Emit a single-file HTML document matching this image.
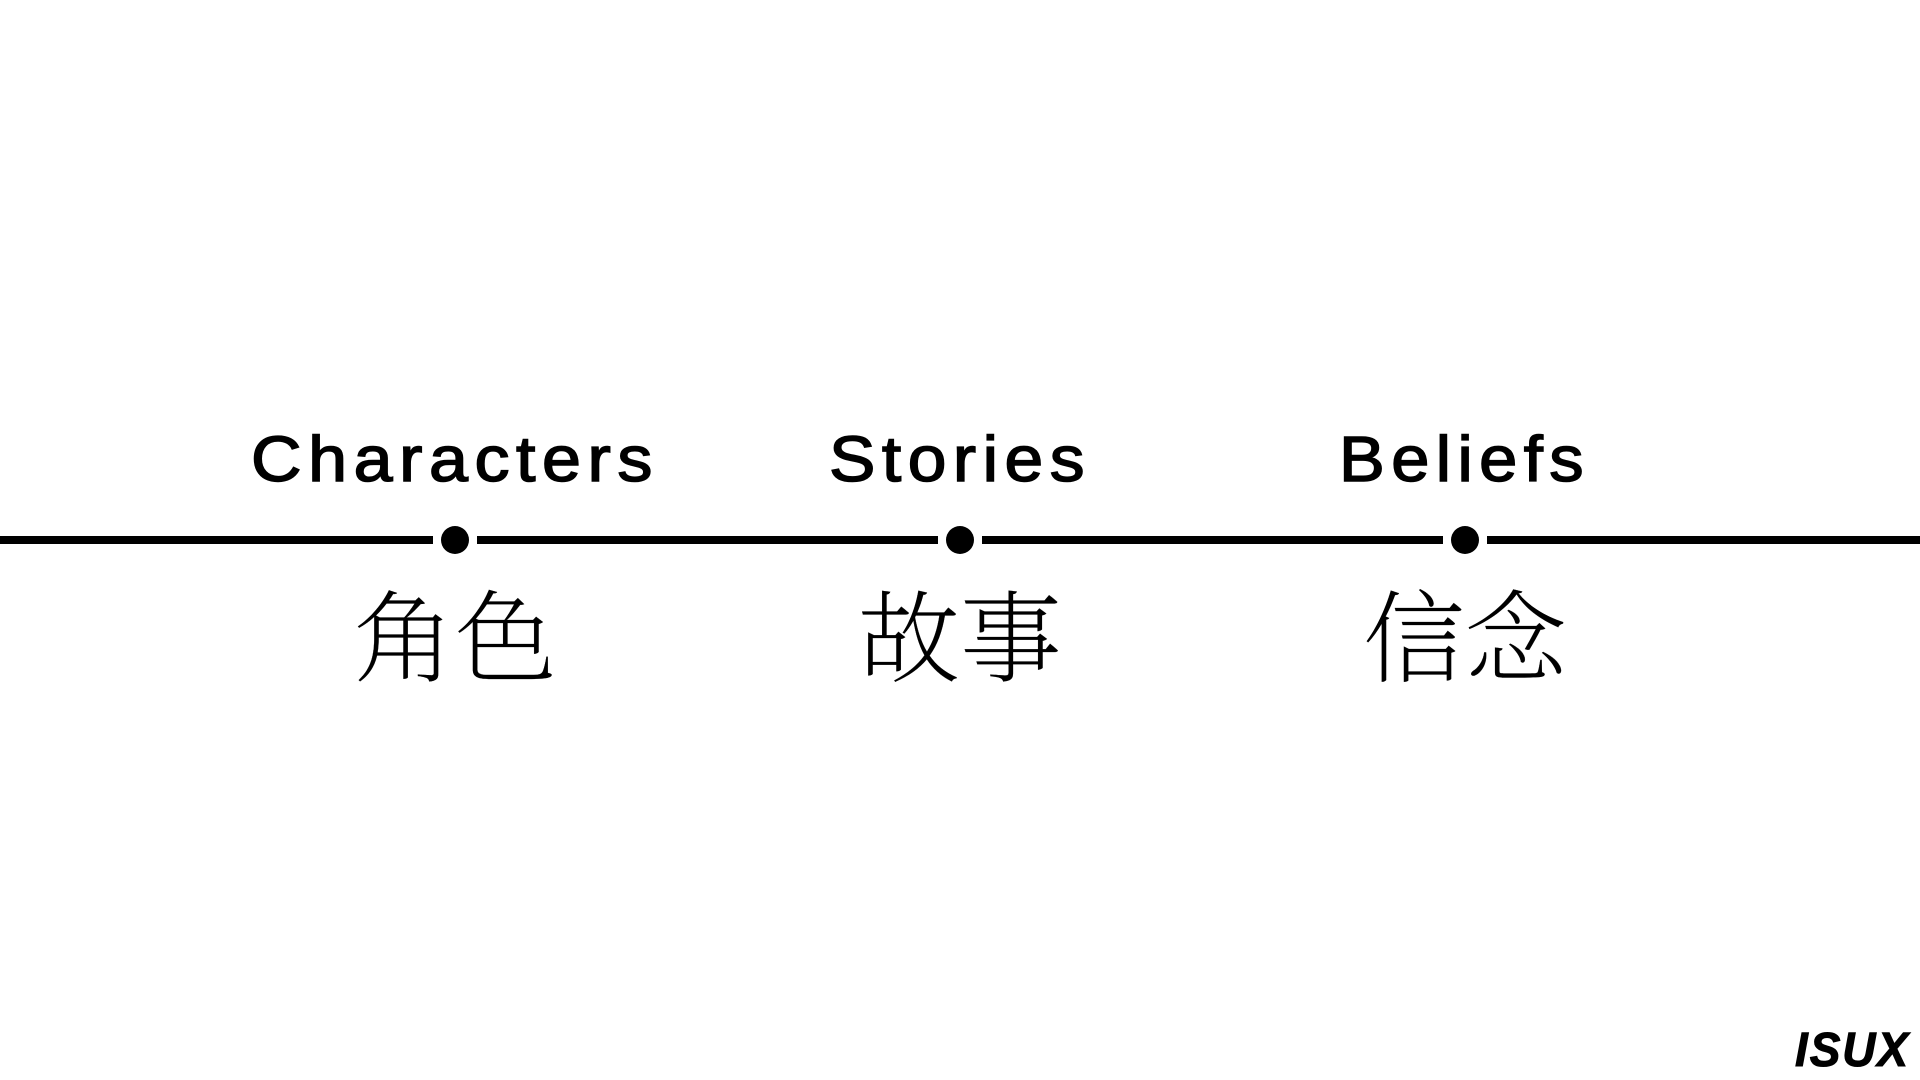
<!DOCTYPE html>
<html lang="zh">
<head>
<meta charset="utf-8">
<style>
html,body{margin:0;padding:0;background:#fff;width:1920px;height:1080px;overflow:hidden}
svg{display:block}
.en{font-family:"Liberation Sans",sans-serif;font-size:64px;letter-spacing:6px;stroke:#000;stroke-width:1.5px;fill:#000}
.zh{font-family:"Liberation Serif","Noto Serif CJK SC",serif;font-size:100px;fill:#000;font-weight:200;stroke:#000;stroke-width:.15px}
.logo{font-family:"Liberation Sans",sans-serif;font-size:48px;font-weight:bold;font-style:italic;letter-spacing:2px;fill:#000;stroke:#000;stroke-width:1px}
</style>
</head>
<body>
<svg width="1920" height="1080" viewBox="0 0 1920 1080" xmlns="http://www.w3.org/2000/svg">
<rect x="0" y="0" width="1920" height="1080" fill="#fff"/>
<rect x="0" y="536" width="433" height="8"/>
<rect x="477" y="536" width="461" height="8"/>
<rect x="982" y="536" width="461" height="8"/>
<rect x="1487" y="536" width="433" height="8"/>
<circle cx="455" cy="540" r="14"/>
<circle cx="960" cy="540" r="14"/>
<circle cx="1465" cy="540" r="14"/>
<text class="en" x="251" y="481" textLength="408" lengthAdjust="spacingAndGlyphs">Characters</text>
<text class="en" x="829" y="481" textLength="262" lengthAdjust="spacingAndGlyphs">Stories</text>
<text class="en" x="1339" y="481" textLength="251" lengthAdjust="spacingAndGlyphs">Beliefs</text>
<text class="zh" x="353" y="674" textLength="204" lengthAdjust="spacingAndGlyphs">角色</text>
<text class="zh" x="858" y="674" textLength="204" lengthAdjust="spacingAndGlyphs">故事</text>
<text class="zh" x="1363" y="674" textLength="204" lengthAdjust="spacingAndGlyphs">信念</text>
<text class="logo" x="1795" y="1066" textLength="115" lengthAdjust="spacingAndGlyphs">ISUX</text>
</svg>
</body>
</html>
